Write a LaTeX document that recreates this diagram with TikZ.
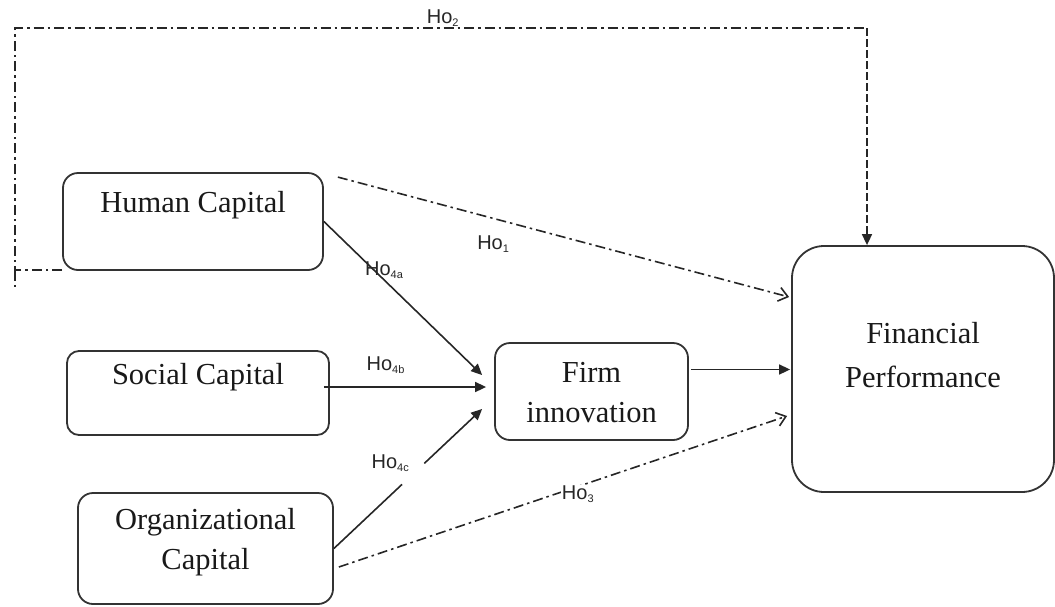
\documentclass[tikz,border=0pt]{standalone}
\usepackage{fontspec}
\setmainfont{Liberation Serif}
\newfontfamily\labfont{Liberation Sans}
\usetikzlibrary{arrows.meta,calc}
\newcommand{\hsub}[1]{\raisebox{-3pt}{\fontsize{11}{11}\selectfont #1}}
\begin{document}
\begin{tikzpicture}[x=1pt,y=-1pt,
 box/.style={draw=black!80, line width=1.8pt, rectangle, inner sep=0pt},
 boxtext/.style={font=\fontsize{30.5}{40}\selectfont, align=center, inner sep=0pt, text=black!90},
 hlab/.style={font=\labfont\fontsize{20}{24}\selectfont, inner sep=1pt, text=black!85},
 conn/.style={line width=1.6pt, draw=black!85},
 solidarrow/.style={conn, -{Triangle[length=11pt,width=10pt]}},
 dd/.style={conn, dash pattern=on 10pt off 4pt on 2.5pt off 4pt},
 openarrow/.style={dd, -{Straight Barb[length=9pt,width=14pt]}}
]
\useasboundingbox (0,0) rectangle (1055,606);

\node[box, rounded corners=15pt, minimum width=260pt, minimum height=97pt,
  label={[boxtext, yshift=16.5pt]center:Human Capital}] (hc) at (193,221.5) {};
\node[box, rounded corners=12pt, minimum width=262pt, minimum height=84pt,
  label={[boxtext, yshift=16pt]center:Social Capital}] (sc) at (198,393) {};
\node[box, rounded corners=15pt, minimum width=255pt, minimum height=111pt,
  label={[boxtext, yshift=6.5pt]center:{Organizational\\Capital}}] (oc) at (205.5,548.5) {};
\node[box, rounded corners=15pt, minimum width=193pt, minimum height=97pt,
  label={[boxtext, yshift=-1.5pt]center:{Firm\\innovation}}] (fi) at (591.5,391.5) {};
\node[box, rounded corners=32pt, minimum width=262pt, minimum height=246pt,
  label={[boxtext, yshift=14pt, font=\fontsize{30.5}{44}\selectfont]center:{Financial\\Performance}}] (fp) at (923,369) {};

% Ho1
\draw[openarrow] ($(hc.north east)+(14,5)$) -- node[hlab, pos=0.344, yshift=-26pt]{Ho\hsub{1}} ($(fp.west)+(-2,-72)$);
% Ho4a
\draw[solidarrow] (hc.east) -- node[hlab, pos=0.38, yshift=10pt]{Ho\hsub{4a}} ($(fi.west)+(-12,-16.5)$);
% Ho4b
\draw[solidarrow] ($(sc.east)+(-6,-6)$) -- node[hlab, pos=0.38, yshift=22pt]{Ho\hsub{4b}} ($(fi.west)+(-8,-4.5)$);
% Ho4c
\path (oc.east) -- coordinate[pos=0.46] (g1) coordinate[pos=0.61] (g2) ($(fi.west)+(-12,17.5)$) coordinate (t4c);
\draw[conn] (oc.east) -- (g1);
\draw[solidarrow] (g2) -- (t4c);
\node[hlab] (l4c) at ($(oc.east)!0.38!(t4c)+(0,-32)$) {Ho\hsub{4c}};
% Ho3
\draw[openarrow] ($(oc.east)+(5,18.5)$) -- node[hlab, fill=white, pos=0.533, yshift=-8pt]{Ho\hsub{3}} ($(fp.west)+(-4,47)$);
% Firm -> Financial
\draw[solidarrow] ($(fi.east)+(2,-22)$) -- ($(fp.west)+(-1,0.5)$);
% Ho2
\coordinate (tl) at (15,28);
\coordinate (tr) at (867,28);
\draw[dd] ($(hc.south west)+(0,-1)$) -| (tl) -- node[hlab, pos=0.502, yshift=10pt]{Ho\hsub{2}} (tr);
\draw[dd] (tl |- hc.south west) -- ++(0,20);
\draw[conn, dash pattern=on 8pt off 3pt, -{Triangle[length=11pt,width=10pt]}] (tr) -- (tr |- fp.north);
\end{tikzpicture}
\end{document}
